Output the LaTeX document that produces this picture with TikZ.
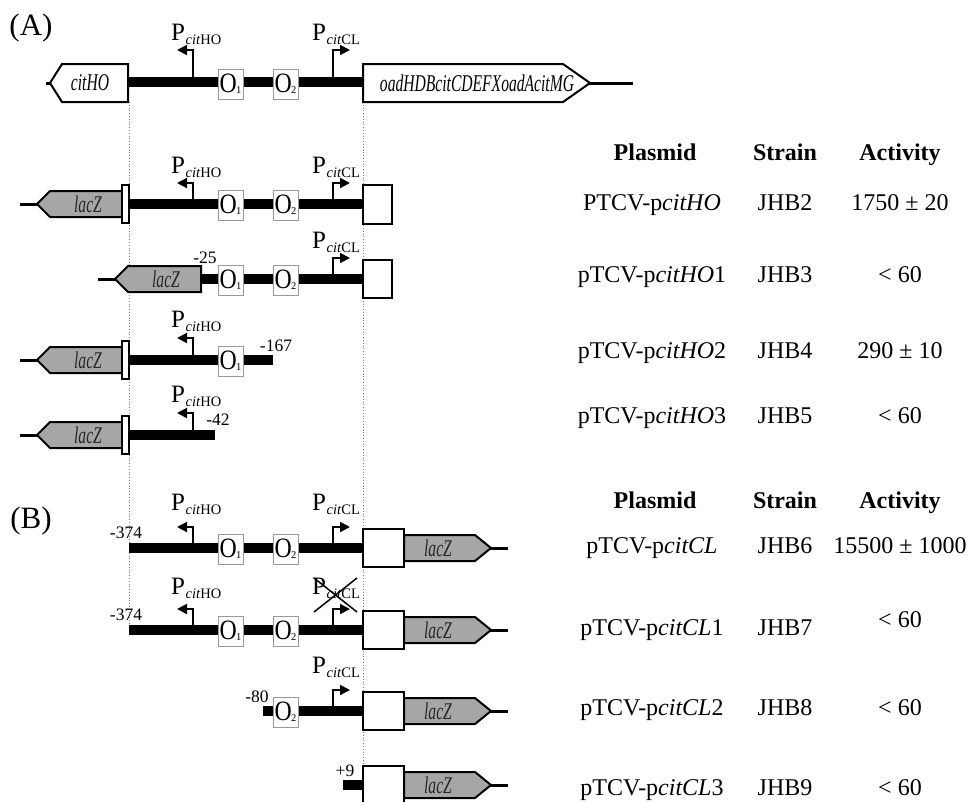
\documentclass[tikz,border=0pt]{standalone}
\usepackage{fontspec}
\setmainfont{Liberation Serif}
\usetikzlibrary{arrows.meta}
\newcommand\promlab[1]{P\kern0.5pt\raisebox{-4pt}{\fontsize{14.5}{14.5}\selectfont\textit{cit}#1}}
\newcommand\genetxt[1]{\scalebox{0.65}[1]{\fontsize{24}{24}\selectfont\itshape #1}}
\newcommand\opr[1]{\scalebox{0.85}[1]{O}\kern-0.5pt\raisebox{-1pt}{\fontsize{10.5}{10.5}\selectfont #1}}
\begin{document}
\begin{tikzpicture}[x=1pt,y=-1pt,
  dna/.style={line width=10pt},
  thindna/.style={line width=3pt},
  guide/.style={gray, line width=0.8pt, dotted},
  obox/.style={draw=gray!80, fill=white, line width=1pt, minimum width=25pt, minimum height=30pt, inner sep=0pt, font=\fontsize{28}{28}\selectfont},
  wbox/.style={draw, fill=white, line width=2pt},
  gene/.style={draw, line width=2pt, line join=miter},
  lacz/.style={gene, fill=gray!70},
  genet/.style={inner sep=0pt, text=black!85},
  prom/.style={line width=2pt, -{Triangle[length=10pt,width=10pt]}},
  plab/.style={anchor=base west, font=\fontsize{25}{25}\selectfont, inner sep=0pt},
  coordlab/.style={font=\fontsize{17.5}{17.5}\selectfont, inner sep=0pt},
  tab/.style={anchor=base, font=\fontsize{24}{24}\selectfont, inner sep=0pt},
  tabh/.style={tab, font=\fontsize{24}{24}\selectfont\bfseries},
  panel/.style={font=\fontsize{31}{31}\selectfont, inner sep=0pt}
  ]
\useasboundingbox (0,0) rectangle (972,801);
% guides
\coordinate (gl1) at (129,102); \coordinate (gl2) at (129,630);
\coordinate (gr1) at (363,102); \coordinate (gr2) at (363,766);
\draw[guide] (gl1) -- (gl2);
\draw[guide] (gr1) -- (gr2);
% panel labels
\node[panel] (labA) at (31,28) {(A)};
\node[panel] (labB) at (31,521) {(B)};
% ---------- top row ----------
\draw[thindna] (46,83) -- (52,83);
\draw[thindna] (585,83) -- (633,83);
\draw[dna] (128,82) -- (364,82);
\draw[gene, fill=white] (50,83) -- (62,64) -- (128,64) -- (128,102) -- (62,102) -- cycle;
\node[genet, text=black] (citHO) at (90,83) {\genetxt{citHO}};
\draw[gene, fill=white] (363,64) -- (563,64) -- (590,83) -- (563,102) -- (363,102) -- cycle;
\node[genet, text=black] (oad) at (477,83) {\genetxt{oadHDBcitCDEFXoadAcitMG}};
\draw[prom] (193,82) -- (193,50) -- (177,50);
\draw[prom] (333,82) -- (333,50) -- (350,50);
\node[plab] (pho0) at (171,40) {\promlab{HO}};
\node[plab] (pcl0) at (312,40) {\promlab{CL}};
% ---------- A rows: thick DNA ----------
\draw[dna] (129,204) -- (363,204);
\draw[dna] (200,279) -- (363,279);
\draw[dna] (129,360) -- (273,360);
\draw[dna] (129,435) -- (215,435);
% left lacZ with spacer
\foreach \y/\n in {204/a1,360/a3,435/a4}{
  \draw[thindna] (20,\y) -- (40,\y);
  \draw[lacz] (37,\y) -- (50,\y-13) -- (122,\y-13) -- (122,\y+13) -- (50,\y+13) -- cycle;
  \draw[wbox] (122,\y-19) rectangle (129,\y+19);
  \node[genet] (lz\n) at (88,\y) {\genetxt{lacZ}};
}
% A2 lacZ
\draw[thindna] (98,279) -- (118,279);
\draw[lacz] (115,279) -- (128,266) -- (201,266) -- (201,292) -- (128,292) -- cycle;
\node[genet] (lza2) at (166,279) {\genetxt{lacZ}};
% right empty boxes A
\draw[wbox] (363,185) rectangle (392,224);
\draw[wbox] (363,260) rectangle (392,298);
% promoters A
\draw[prom] (193,204) -- (193,183) -- (177,183);
\draw[prom] (333,204) -- (333,183) -- (350,183);
\node[plab] (pho1) at (171,173) {\promlab{HO}};
\node[plab] (pcl1) at (312,173) {\promlab{CL}};
\draw[prom] (333,279) -- (333,258) -- (350,258);
\node[plab] (pcl2) at (312,248) {\promlab{CL}};
\draw[prom] (193,360) -- (193,338) -- (177,338);
\node[plab] (pho3) at (171,327) {\promlab{HO}};
\draw[prom] (193,435) -- (193,413) -- (177,413);
\node[plab] (pho4) at (171,402) {\promlab{HO}};
% operators A
\node[obox] (o1r0) at (230.5,84) {\opr{1}};
\node[obox] (o2r0) at (285.5,84) {\opr{2}};
\node[obox] (o1r1) at (230.5,205) {\opr{1}};
\node[obox] (o2r1) at (285.5,205) {\opr{2}};
\node[obox] (o1r2) at (230.5,280) {\opr{1}};
\node[obox] (o2r2) at (285.5,280) {\opr{2}};
\node[obox] (o1r3) at (230.5,361) {\opr{1}};
% coordinates A
\node[coordlab] (c25) at (205,258) {-25};
\node[coordlab] (c167) at (276,346) {-167};
\node[coordlab] (c42) at (218,420) {-42};
% ---------- B rows ----------
\draw[dna] (129,548) -- (363,548);
\draw[dna] (129,630) -- (363,630);
\draw[dna] (263,711) -- (363,711);
\draw[dna] (343,785) -- (363,785);
\foreach \y/\n in {548/b1,630/b2,711/b3,785/b4}{
  \draw[thindna] (488,\y) -- (508,\y);
  \draw[wbox] (363,\y-19) rectangle (404,\y+19);
  \draw[lacz] (404,\y-13) -- (475,\y-13) -- (491,\y) -- (475,\y+13) -- (404,\y+13) -- cycle;
  \node[genet] (lz\n) at (438,\y) {\genetxt{lacZ}};
}
\draw[prom] (193,548) -- (193,527) -- (177,527);
\draw[prom] (333,548) -- (333,527) -- (350,527);
\node[plab] (phob1) at (171,510) {\promlab{HO}};
\node[plab] (pclb1) at (312,510) {\promlab{CL}};
\draw[prom] (193,630) -- (193,609) -- (177,609);
\draw[prom] (333,630) -- (333,609) -- (350,609);
\node[plab] (phob2) at (171,594) {\promlab{HO}};
\node[plab] (pclb2) at (312,594) {\promlab{CL}};
\draw[line width=1.5pt] (314,578) -- (357,612);
\draw[line width=1.5pt] (357,578) -- (314,612);
\draw[prom] (333,711) -- (333,690) -- (350,690);
\node[plab] (pclb3) at (312,673) {\promlab{CL}};
\node[obox] (o1b1) at (230.5,549) {\opr{1}};
\node[obox] (o2b1) at (285.5,549) {\opr{2}};
\node[obox] (o1b2) at (230.5,631) {\opr{1}};
\node[obox] (o2b2) at (285.5,631) {\opr{2}};
\node[obox] (o2b3) at (285.5,712) {\opr{2}};
\node[coordlab] (c374a) at (126,533) {-374};
\node[coordlab] (c374b) at (126,615) {-374};
\node[coordlab] (c80) at (257,697) {-80};
\node[coordlab] (c9) at (345,771) {+9};
% ---------- tables ----------
\node[tabh] (hpa) at (655,160) {Plasmid};
\node[tabh] (hsa) at (785,160) {Strain};
\node[tabh] (haa) at (900,160) {Activity};
\node[tab] (pa1) at (652,210) {PTCV-p\textit{citHO}};
\node[tab] (sa1) at (785,210) {JHB2};
\node[tab] (aa1) at (900,210) {1750 ± 20};
\node[tab] (pa2) at (652,282) {pTCV-p\textit{citHO}1};
\node[tab] (sa2) at (785,282) {JHB3};
\node[tab] (aa2) at (900,282) {< 60};
\node[tab] (pa3) at (652,358) {pTCV-p\textit{citHO}2};
\node[tab] (sa3) at (785,358) {JHB4};
\node[tab] (aa3) at (900,358) {290 ± 10};
\node[tab] (pa4) at (652,423) {pTCV-p\textit{citHO}3};
\node[tab] (sa4) at (785,423) {JHB5};
\node[tab] (aa4) at (900,423) {< 60};
\node[tabh] (hpb) at (655,508) {Plasmid};
\node[tabh] (hsb) at (785,508) {Strain};
\node[tabh] (hab) at (900,508) {Activity};
\node[tab] (pb1) at (652,553) {pTCV-p\textit{citCL}};
\node[tab] (sb1) at (785,553) {JHB6};
\node[tab] (ab1) at (900,553) {15500 ± 1000};
\node[tab] (pb2) at (652,635) {pTCV-p\textit{citCL}1};
\node[tab] (sb2) at (785,635) {JHB7};
\node[tab] (ab2) at (900,627) {< 60};
\node[tab] (pb3) at (652,715) {pTCV-p\textit{citCL}2};
\node[tab] (sb3) at (785,715) {JHB8};
\node[tab] (ab3) at (900,715) {< 60};
\node[tab] (pb4) at (652,795) {pTCV-p\textit{citCL}3};
\node[tab] (sb4) at (785,795) {JHB9};
\node[tab] (ab4) at (900,795) {< 60};
\end{tikzpicture}
\end{document}
